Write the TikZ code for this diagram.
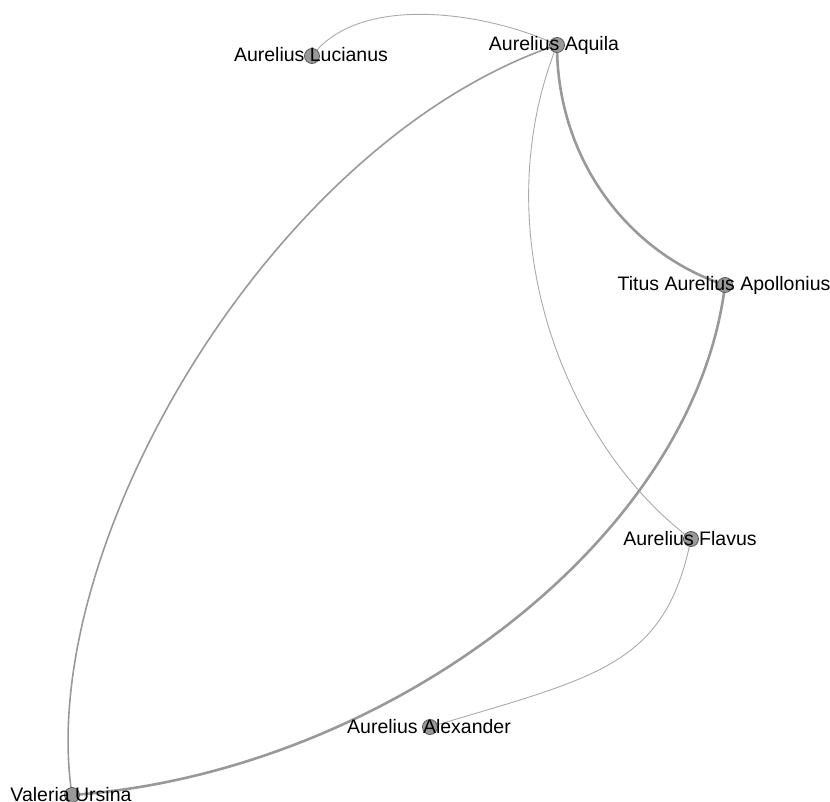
\documentclass[tikz,border=0pt]{standalone}
\usepackage{fontspec}
\setmainfont{Liberation Sans}
\usetikzlibrary{backgrounds}
\definecolor{edgegray}{HTML}{999999}
\definecolor{thingray}{HTML}{AAAAAA}
\definecolor{dotfill}{HTML}{999999}
\definecolor{dotdraw}{HTML}{595959}
\begin{document}
\begin{tikzpicture}[x=1pt,y=-1pt,
  dot/.style={circle,minimum size=15pt,inner sep=0pt,fill=dotfill,draw=dotdraw,line width=0.8pt},
  lbl/.style={anchor=base,inner sep=0pt,text=black,font=\fontsize{19.5}{22}\selectfont},
  thinlink/.style={draw=thingray,line width=0.9pt},
  midlink/.style={draw=edgegray,line width=1.6pt},
  thicklink/.style={draw=edgegray,line width=2.6pt}]
\useasboundingbox (0,0) rectangle (830,802);
\node[dot] (luc) at (312,56) {};
\node[dot] (aq) at (557,45) {};
\node[dot] (tit) at (725,285) {};
\node[dot] (fla) at (691,539) {};
\node[dot] (ale) at (430,727) {};
\node[dot] (val) at (72,795) {};
\begin{scope}[on background layer]
\draw[thinlink] (luc.center) .. controls (360,-8) and (489.5,12.75) .. (aq.center);
\draw[midlink] (aq.center) .. controls (272,141) and (34.5,547.5) .. (val.center);
\draw[thicklink] (aq.center) .. controls (557,161) and (630,254) .. (tit.center);
\draw[thinlink] (aq.center) .. controls (483,231) and (563,443) .. (fla.center);
\draw[thicklink] (tit.center) .. controls (693.8,542.4) and (382,773.3) .. (val.center);
\draw[thinlink] (fla.center) .. controls (665,666.4) and (598,676.3) .. (ale.center);
\end{scope}
\node[lbl] (lucL) at (311,62) {Aurelius Lucianus};
\node[lbl] (aqL) at (554,51) {Aurelius Aquila};
\node[lbl] (titL) at (724,291) {Titus Aurelius Apollonius};
\node[lbl] (flaL) at (690,545) {Aurelius Flavus};
\node[lbl] (aleL) at (429,733) {Aurelius Alexander};
\node[lbl] (valL) at (71,801) {Valeria Ursina};
\end{tikzpicture}
\end{document}
